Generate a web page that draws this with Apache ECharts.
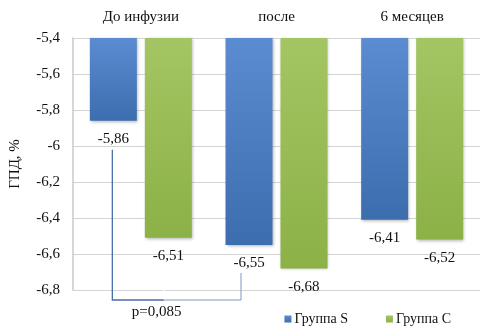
<!DOCTYPE html>
<html>
<head>
<meta charset="utf-8">
<script src="https://cdn.jsdelivr.net/npm/echarts@6/dist/echarts.min.js"></script>
<style>
  html, body { margin: 0; padding: 0; background: #fff; }
  #chart { width: 480px; height: 333px; }
</style>
</head>
<body>
<div id="chart"></div>
<script>
// Time points and GPD values (%) per group
const categories = ['До инфузии', 'после', '6 месяцев'];
const groupS = [-5.86, -6.55, -6.41];
const groupC = [-6.51, -6.68, -6.52];
const seriesNames = ['Группа S', 'Группа C'];
const axisMin = -6.8;
const axisMax = -5.4;
const axisStep = 0.2;
const pValueText = 'p=0,085';

const FONT = 'Liberation Serif';
const fmt = v => String(v).replace('.', ',');

const chart = echarts.init(document.getElementById('chart'), null, { renderer: 'canvas' });

function grad(top, bottom) {
  return {
    type: 'linear', x: 0, y: 0, x2: 0, y2: 1,
    colorStops: [{ offset: 0, color: top }, { offset: 1, color: bottom }]
  };
}

const BAR_W = 47;
const BAR_GAP = 8;

function barSeries(name, data, top, bottom) {
  return {
    name: name,
    type: 'bar',
    data: data,
    clip: true,
    barWidth: BAR_W,
    barGap: (BAR_GAP / BAR_W * 100).toFixed(1) + '%',
    itemStyle: {
      color: grad(top, bottom),
      shadowBlur: 3,
      shadowOffsetX: 1,
      shadowOffsetY: 1,
      shadowColor: 'rgba(0,0,0,0.3)'
    },
    label: {
      show: true,
      position: 'bottom',
      distance: 11,
      fontFamily: FONT,
      fontSize: 15,
      color: '#111',
      formatter: p => fmt(p.value)
    },
    emphasis: { disabled: true }
  };
}

const option = {
  animation: false,
  backgroundColor: '#fff',
  grid: { left: 71, right: 0, top: 38, bottom: 43 },
  legend: {
    data: seriesNames,
    right: 24,
    bottom: 2,
    icon: 'rect',
    itemWidth: 7,
    itemHeight: 7,
    itemGap: 38,
    textStyle: { fontFamily: FONT, fontSize: 14, color: '#111', padding: [0, 0, 0, -2] }
  },
  xAxis: {
    type: 'category',
    position: 'top',
    data: categories,
    axisLine: { show: false },
    axisTick: { show: false },
    axisLabel: { margin: 13, fontFamily: FONT, fontSize: 15, color: '#111' }
  },
  yAxis: {
    type: 'value',
    min: axisMin,
    max: axisMax,
    interval: axisStep,
    name: 'ГПД, %',
    nameLocation: 'middle',
    nameGap: 50,
    nameRotate: 90,
    nameTextStyle: { fontFamily: FONT, fontSize: 15, color: '#111' },
    axisLine: { show: true, onZero: false, lineStyle: { color: '#c8c8c8', width: 1.5 } },
    axisTick: { show: false },
    splitLine: { show: true, lineStyle: { color: '#d4d4d4', width: 1 } },
    axisLabel: {
      margin: 13,
      fontFamily: FONT,
      fontSize: 15,
      color: '#111',
      formatter: v => fmt(Math.round(v * 10) / 10)
    }
  },
  series: [
    barSeries(seriesNames[0], groupS, '#5b8cd1', '#3c6dae'),
    barSeries(seriesNames[1], groupC, '#a4c563', '#8cb147')
  ]
};

chart.setOption(option);

// Significance bracket between the Group S bars of the first two time points
function drawBracket() {
  const toPx = (cat, val) => chart.convertToPixel({ gridIndex: 0 }, [cat, val]);
  const half = (BAR_W + BAR_GAP) / 2;
  const [c0] = toPx(0, axisMin);
  const [c1] = toPx(1, axisMin);
  const yBase = toPx(0, axisMin)[1] + 10;
  const xLeft = c0 - half - 1;
  const xMid = c0 + half - 4;
  const xRight = c1 - half - 8;
  const yLeftTop = toPx(0, groupS[0])[1] + 29;
  const yMidTop = toPx(0, groupC[0])[1] + 25;
  const yRightTop = toPx(1, groupS[1])[1] + 28;
  const dark = '#4a6ea8';
  const light = '#8197bf';

  chart.setOption({
    graphic: [
      { type: 'polyline', silent: true, z: 10,
        shape: { points: [[xLeft, yLeftTop], [xLeft, yBase], [xMid, yBase]] },
        style: { stroke: dark, lineWidth: 1.3, fill: null } },
      { type: 'line', silent: true, z: 10,
        shape: { x1: xMid, y1: yMidTop, x2: xMid, y2: yBase },
        style: { stroke: '#ffffff', lineWidth: 1.5 } },
      { type: 'polyline', silent: true, z: 10,
        shape: { points: [[xMid, yBase], [xRight, yBase], [xRight, yRightTop]] },
        style: { stroke: light, lineWidth: 1, fill: null } },
      { type: 'text', silent: true, z: 10,
        x: (xLeft + xRight) / 2 - 20, y: yBase + 12,
        style: { text: pValueText, font: '15px "' + FONT + '"', fill: '#111',
                 align: 'center', verticalAlign: 'middle' } }
    ]
  });
}
drawBracket();
</script>
</body>
</html>
